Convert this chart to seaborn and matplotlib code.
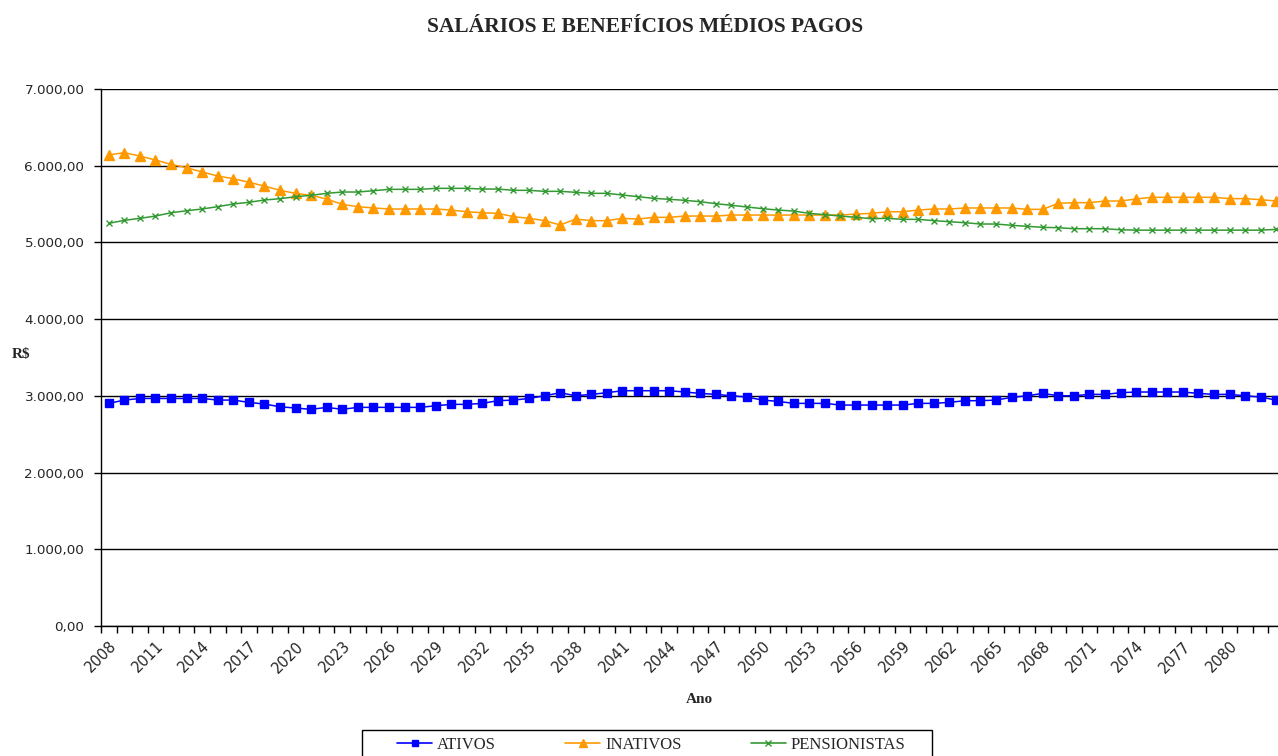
import numpy as np
import pandas as pd
import seaborn as sns
import matplotlib.pyplot as plt
from matplotlib.ticker import FuncFormatter, MultipleLocator
from matplotlib.lines import Line2D
from matplotlib.patches import Rectangle
from matplotlib.transforms import ScaledTranslation

# Dados (R$)
anos = list(range(2008, 2084))

ativos = [2902, 2945, 2966, 2966, 2966, 2966, 2966, 2945, 2945, 2915,
          2893, 2858, 2841, 2824, 2850, 2824, 2850, 2850, 2850, 2850,
          2850, 2871, 2889, 2889, 2902, 2937, 2945, 2966, 3001, 3041,
          3001, 3019, 3041, 3067, 3067, 3067, 3067, 3050, 3032, 3019,
          3001, 2984, 2945, 2928, 2902, 2902, 2902, 2880, 2880, 2880,
          2880, 2880, 2902, 2902, 2915, 2937, 2937, 2945, 2980, 3001,
          3032, 3001, 3001, 3019, 3019, 3041, 3050, 3050, 3050, 3050,
          3032, 3019, 3019, 3001, 2984, 2945]

inativos = [6140, 6170, 6126, 6074, 6018, 5974, 5918, 5866, 5831, 5784,
            5735, 5679, 5640, 5614, 5566, 5496, 5466, 5449, 5436, 5436,
            5436, 5436, 5422, 5400, 5387, 5379, 5336, 5314, 5284, 5227,
            5305, 5284, 5284, 5314, 5305, 5327, 5327, 5344, 5344, 5344,
            5357, 5357, 5357, 5357, 5357, 5357, 5357, 5357, 5370, 5379,
            5400, 5400, 5422, 5436, 5436, 5449, 5449, 5449, 5449, 5431,
            5431, 5510, 5518, 5518, 5540, 5540, 5566, 5588, 5588, 5588,
            5588, 5588, 5571, 5571, 5557, 5540]

pensionistas = [5249, 5288, 5314, 5344, 5387, 5413, 5436, 5466, 5501, 5523,
                5553, 5570, 5596, 5614, 5640, 5657, 5657, 5674, 5692, 5692,
                5692, 5705, 5705, 5705, 5696, 5696, 5679, 5679, 5666, 5666,
                5653, 5640, 5640, 5618, 5596, 5575, 5562, 5549, 5531, 5505,
                5484, 5462, 5440, 5422, 5409, 5379, 5362, 5344, 5327, 5310,
                5314, 5301, 5301, 5284, 5270, 5257, 5240, 5240, 5223, 5210,
                5197, 5192, 5179, 5179, 5179, 5165, 5160, 5160, 5160, 5160,
                5160, 5160, 5160, 5160, 5160, 5170]

series = ['ATIVOS', 'INATIVOS', 'PENSIONISTAS']
cores = {'ATIVOS': '#0000FF', 'INATIVOS': '#FF9900', 'PENSIONISTAS': '#339933'}
marcadores = {'ATIVOS': 's', 'INATIVOS': '^', 'PENSIONISTAS': 'x'}
tamanhos = {'ATIVOS': 5.5, 'INATIVOS': 7, 'PENSIONISTAS': 5}

df = pd.DataFrame({'Ano': anos, 'ATIVOS': ativos, 'INATIVOS': inativos,
                   'PENSIONISTAS': pensionistas})
dados = df.melt(id_vars='Ano', var_name='serie', value_name='valor')

sns.set_style('white')
plt.rcParams['font.family'] = ['Liberation Serif', 'DejaVu Serif']

W, H = 1278, 756
fig = plt.figure(figsize=(W / 100, H / 100), dpi=100)
# a area do grafico passa um pouco da borda direita, como no original
ax = fig.add_axes([101 / W, 1 - 626 / H, 1183 / W, 537 / H])

for s in series:
    sns.lineplot(data=dados[dados['serie'] == s], x='Ano', y='valor', ax=ax,
                 color=cores[s], marker=marcadores[s], markersize=tamanhos[s],
                 markeredgecolor=cores[s], markeredgewidth=1, linewidth=1.1,
                 legend=False, zorder=3)

ax.set_ylim(0, 7000)
ax.set_xlim(anos[0] - 0.5, anos[-1] + 0.5)
ax.yaxis.set_major_locator(MultipleLocator(1000))
fmt = lambda v, p: f'{v:,.2f}'.replace(',', 'X').replace('.', ',').replace('X', '.')
ax.yaxis.set_major_formatter(FuncFormatter(fmt))
ax.grid(axis='y', color='black', linewidth=1)
ax.set_axisbelow(True)

rotulos = anos[:-1:3]
ax.set_xticks(rotulos)
ax.set_xticklabels([str(a) for a in rotulos], rotation=45, ha='right',
                   rotation_mode='anchor', fontsize=10.5, family='DejaVu Sans')
desloc = ScaledTranslation(8 / 100, 0, fig.dpi_scale_trans)
for t in ax.get_xticklabels():
    t.set_transform(t.get_transform() + desloc)
ax.set_xticks(np.arange(anos[0] - 0.5, anos[-1] + 1), minor=True)
ax.tick_params(axis='x', which='major', length=0, pad=9)
ax.tick_params(axis='x', which='minor', length=5, width=1, color='black',
               direction='out', bottom=True)
ax.tick_params(axis='y', length=5, width=1, color='black', direction='out',
               left=True, pad=7)
for t in ax.get_yticklabels():
    t.set_fontfamily('DejaVu Sans')
    t.set_fontsize(9.7)

for lado in ['top', 'right']:
    ax.spines[lado].set_visible(False)
for lado in ['left', 'bottom']:
    ax.spines[lado].set_color('black')
    ax.spines[lado].set_linewidth(1)

ax.set_xlabel('Ano', fontweight='bold', fontsize=11)
ax.xaxis.set_label_coords(0.506, -0.124)
ax.set_ylabel('R$', fontweight='bold', fontsize=11, rotation=0, va='center')
ax.yaxis.set_label_coords(-0.068, 0.505)

fig.text(645 / W, 1 - 27.5 / H, 'SALÁRIOS E BENEFÍCIOS MÉDIOS PAGOS',
         ha='center', va='center', fontsize=15.5, fontweight='bold')

handles = [Line2D([], [], color=cores[s], marker=marcadores[s],
                  markersize=tamanhos[s] - 1, linewidth=1.2) for s in series]
leg = fig.legend(handles, series, loc='upper left',
                 bbox_to_anchor=(397 / W, 1 - 737 / H), ncol=3,
                 fontsize=12, frameon=False, handlelength=2.1,
                 columnspacing=4.15, handletextpad=0.3, borderpad=0,
                 borderaxespad=0)
fig.patches.append(Rectangle((362 / W, 1 - 770 / H), 570 / W, 40 / H,
                             transform=fig.transFigure, fill=False,
                             edgecolor='black', linewidth=1))

fig.savefig('out.png', dpi=100)
